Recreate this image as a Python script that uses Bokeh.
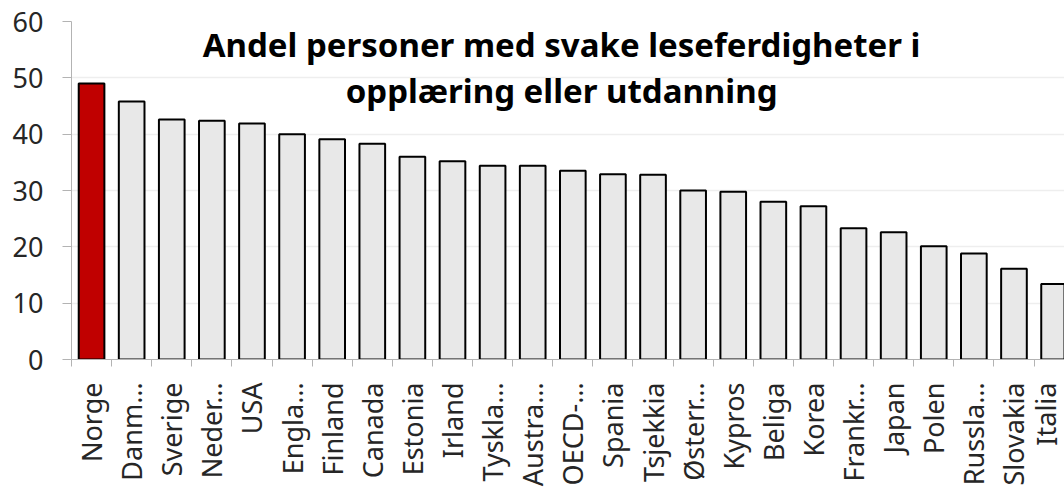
from bokeh.plotting import figure
from bokeh.models import Range1d, FixedTicker, ColumnDataSource, Label
from bokeh.embed import file_html
from bokeh.resources import INLINE

countries = ["Norge", "Danm…", "Sverige", "Neder…", "USA", "Engla…", "Finland",
             "Canada", "Estonia", "Irland", "Tyskla…", "Austra…", "OECD-…",
             "Spania", "Tsjekkia", "Østerr…", "Kypros", "Beliga", "Korea",
             "Frankr…", "Japan", "Polen", "Russla…", "Slovakia", "Italia"]
values = [49.0, 45.8, 42.6, 42.4, 41.9, 40.0, 39.1, 38.3, 36.0, 35.2, 34.4,
          34.4, 33.5, 32.9, 32.8, 30.0, 29.8, 28.0, 27.2, 23.3, 22.6, 20.1,
          18.8, 16.1, 13.4]
highlight = "Norge"
y_ticks = [0, 10, 20, 30, 40, 50, 60]
title_lines = ["Andel personer med svake leseferdigheter i",
               "opplæring eller utdanning"]

FONT = "Noto Sans"
n = len(countries)
xs = [i + 0.5 for i in range(n)]
colors = ["#c00000" if c == highlight else "#e8e8e8" for c in countries]
src = ColumnDataSource(dict(x=xs, top=values, color=colors, name=countries))

p = figure(width=1064, height=489, output_backend="svg", toolbar_location=None,
           x_range=Range1d(0, 24.76), y_range=Range1d(0, 60))
p.min_border_left = 71
p.min_border_right = 0
p.min_border_top = 21
p.min_border_bottom = 0
p.outline_line_color = None
p.background_fill_color = "white"
p.border_fill_color = "white"

p.vbar(x="x", top="top", width=0.64, bottom=0, source=src,
       fill_color="color", line_color="black", line_width=2)

# x axis: labels at category centres, ticks at category boundaries
xa = p.xaxis[0]
xa.ticker = FixedTicker(ticks=xs, minor_ticks=list(range(n + 1)))
xa.major_label_overrides = {x: c for x, c in zip(xs, countries)}
xa.major_label_orientation = 1.5708
xa.major_tick_line_color = None
xa.major_tick_in = 0
xa.major_tick_out = 0
xa.minor_tick_in = 0
xa.minor_tick_out = 7
xa.minor_tick_line_color = "#b3b3b3"
xa.axis_line_color = "#b3b3b3"
xa.major_label_standoff = 16
xa.major_label_text_font = FONT
xa.major_label_text_font_size = "27px"
xa.major_label_text_color = "#262626"

ya = p.yaxis[0]
ya.ticker = FixedTicker(ticks=y_ticks)
ya.minor_tick_line_color = None
ya.major_tick_in = 0
ya.major_tick_out = 9
ya.major_tick_line_color = "#b3b3b3"
ya.axis_line_color = "#b3b3b3"
ya.major_label_standoff = 19
ya.major_label_text_font = FONT
ya.major_label_text_font_size = "27px"
ya.major_label_text_color = "#262626"

p.xgrid.grid_line_color = None
p.ygrid.ticker = FixedTicker(ticks=y_ticks)
p.ygrid.grid_line_color = "#eeeeee"
p.ygrid.grid_line_width = 1.5

for txt, yv in zip(title_lines, [55.9, 47.8]):
    p.add_layout(Label(x=12.22, y=yv, text=txt, text_align="center",
                       text_baseline="middle", text_font=FONT,
                       text_font_style="bold", text_font_size="33px",
                       text_color="black"))

open("out.html", "w").write(file_html(p, INLINE))
